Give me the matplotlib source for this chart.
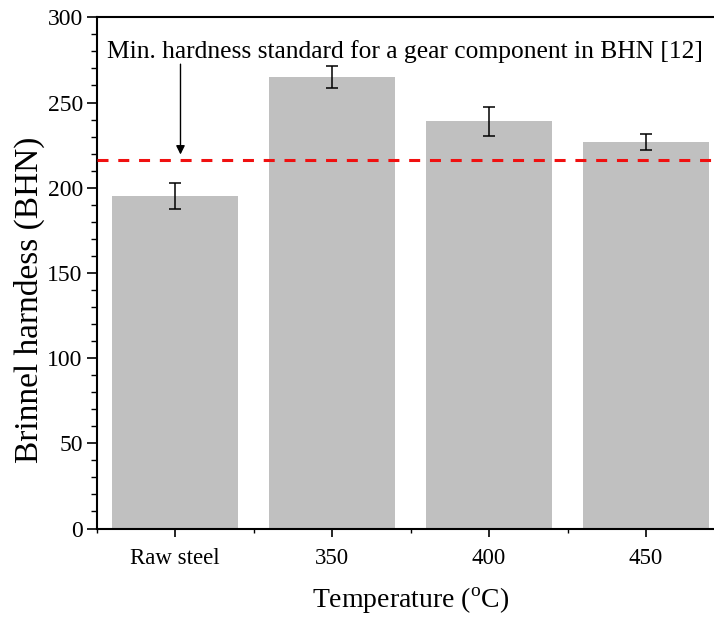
import matplotlib

matplotlib.use("Agg")
import matplotlib.pyplot as plt
import numpy as np
from matplotlib.ticker import FixedLocator, MultipleLocator

plt.rcParams["font.family"] = ["Liberation Serif", "DejaVu Serif"]
plt.rcParams["mathtext.fontset"] = "custom"
plt.rcParams["mathtext.rm"] = "Liberation Serif"

# values
categories = ["Raw steel", "350", "400", "450"]
hardness = [195, 265, 239, 227]
hardness_err = [7.5, 6.3, 8.4, 4.8]
min_standard = 216
note_text = "Min. hardness standard for a gear component in BHN [12]"

BAR_COLOR = "#c0c0c0"

fig = plt.figure(figsize=(7.14, 6.17), dpi=100)
fig.patch.set_facecolor("white")
# axes runs slightly past the right edge, as in the cropped original
ax = fig.add_axes([0.1354, 0.1434, 0.8793, 0.8285])

x = np.arange(len(categories))
ax.bar(x, hardness, width=0.8, color=BAR_COLOR, edgecolor="none", zorder=2)
ax.errorbar(x, hardness, yerr=hardness_err, fmt="none", ecolor="black",
            elinewidth=1.1, capsize=4.0, capthick=1.1, zorder=3)

ax.axhline(min_standard, color="#f01010", lw=2.2, dashes=(3.6, 3.2), zorder=4)

ax.annotate("", xy=(0.034, 219.5), xytext=(0.034, 272.5),
            arrowprops=dict(arrowstyle="-|>", color="black", lw=1.0,
                            mutation_scale=13, shrinkA=0, shrinkB=0))
ax.text(-0.435, 276, note_text, fontsize=18.4, ha="left", va="baseline")

ax.set_xlim(-0.5, 3.5)
ax.set_ylim(0, 300)
ax.set_xticks(x)
ax.set_xticklabels(categories)
ax.xaxis.set_minor_locator(FixedLocator([-0.5, 0.5, 1.5, 2.5, 3.5]))
ax.yaxis.set_major_locator(MultipleLocator(50))
ax.yaxis.set_minor_locator(MultipleLocator(10))

ax.tick_params(axis="y", which="major", direction="out", length=7, width=1.2,
               labelsize=17, pad=3)
ax.tick_params(axis="y", which="minor", direction="out", length=4, width=1.0)
ax.tick_params(axis="x", which="major", direction="out", length=6, width=1.2,
               labelsize=16.5, pad=8)
ax.tick_params(axis="x", which="minor", direction="out", length=3, width=1.0)

for side in ("left", "bottom", "top", "right"):
    ax.spines[side].set_linewidth(1.5)

ax.set_xlabel("Temperature ($^{\\mathrm{o}}$C)", fontsize=20, labelpad=12)
ax.set_ylabel("Brinnel harndess (BHN)", fontsize=24)
ax.yaxis.set_label_coords(-0.082, 0.447)

fig.savefig("out.png", dpi=100, facecolor="white")
plt.close()
